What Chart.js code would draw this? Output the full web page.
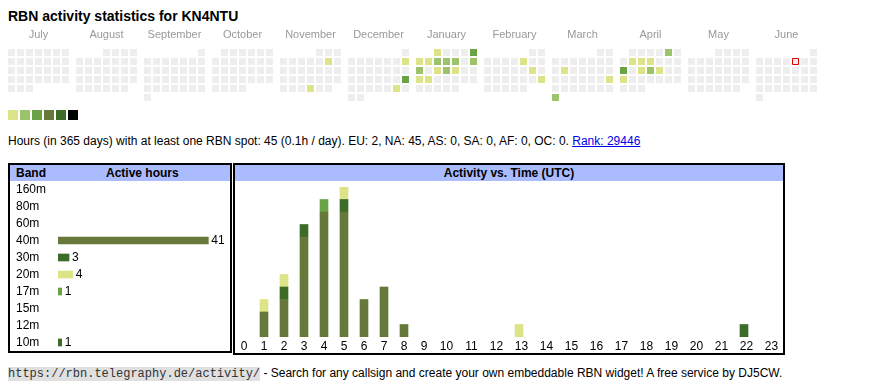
<!DOCTYPE html>
<html>
<head>
<meta charset="utf-8">
<script src="https://cdn.jsdelivr.net/npm/chart.js@4.4.1/dist/chart.umd.min.js"></script>
<style>
    body { margin: 0; width: 870px; height: 390px; position: relative; overflow: hidden; background: #fff;
           font-family: "Liberation Sans", Arial, sans-serif; font-size: 12px; color: #000; }
    .abs { position: absolute; }
    #title { left: 8px; top: 8px; line-height: 16px; font-size: 14px; font-weight: bold; white-space: nowrap; }
    #legend span { position: absolute; top: 110px; width: 10px; height: 10px; }
    #info { left: 8px; top: 134px; line-height: 14px; white-space: nowrap; }
    #info a { color: #0000ee; text-decoration: underline; }
    .box { position: absolute; box-sizing: border-box; border: 2px solid #000; }
    .hdr { position: absolute; left: 0; right: 0; top: 0; height: 16px; line-height: 16px; background: #aabbff; font-weight: bold; }
    .hdr span { position: absolute; top: 0; }
    #foot { left: 8px; top: 366px; line-height: 14px; white-space: nowrap; }
    #foot code { font-family: "Liberation Mono", "Courier New", monospace; font-size: 12px; background: #e0e0e0; color: #333; }
    canvas { position: absolute; }
</style>
</head>
<body>

<div id="title" class="abs">RBN activity statistics for KN4NTU</div>
<canvas id="calendar" width="830" height="100" style="left:0;top:24px"></canvas>
<div id="legend"></div>
<div id="info" class="abs">Hours (in 365 days) with at least one RBN spot: 45 (0.1h / day). EU: 2, NA: 45, AS: 0, SA: 0, AF: 0, OC: 0. <a href="#">Rank: 29446</a></div>

<div class="box" style="left:8px;top:163px;width:224px;height:190px">
    <div class="hdr"><span style="left:6px">Band</span><span style="left:96px">Active hours</span></div>
</div>
<canvas id="bands" width="220" height="170" style="left:10px;top:181px"></canvas>

<div class="box" style="left:233px;top:163px;width:552px;height:192px">
    <div class="hdr" style="text-align:center">Activity vs. Time (UTC)</div>
</div>
<canvas id="hours" width="549" height="172" style="left:234px;top:181px"></canvas>

<div id="foot" class="abs"><code>https://rbn.telegraphy.de/activity/</code> - Search for any callsign and create your own embeddable RBN widget! A free service by DJ5CW.</div>

<script>
// ---- calendar data ----
const MONTHS = ['July', 'August', 'September', 'October', 'November', 'December',
                'January', 'February', 'March', 'April', 'May', 'June'];
const FIRST_YEAR = 2024;
const FIRST_MONTH = 6;          // July
const TODAY = '2025-06-06';
const ACTIVE_DAYS = [
    '2024-11-09', '2024-11-28', '2024-12-08', '2024-12-22', '2024-12-28',
    '2025-01-01', '2025-01-05', '2025-01-06', '2025-01-07', '2025-01-08', '2025-01-09', '2025-01-10', '2025-01-12',
    '2025-01-13', '2025-01-15', '2025-01-16', '2025-01-17', '2025-01-20', '2025-01-21',
    '2025-02-07', '2025-02-15', '2025-02-23',
    '2025-03-11', '2025-03-23', '2025-03-31',
    '2025-04-05', '2025-04-08', '2025-04-09', '2025-04-10', '2025-04-14', '2025-04-16', '2025-04-17', '2025-04-18', '2025-04-21'
];
const ACTIVE_LEVELS = [
    1, 1, 1, 3, 1,
    1, 3, 1, 1, 2, 2, 2, 2,
    2, 1, 2, 1, 1, 1,
    1, 1, 1,
    1, 1, 2,
    2, 1, 1, 1, 3, 1, 2, 1, 1
];
const LEVEL_COLORS = ['#eeeeee', '#dde388', '#9dc36a', '#6aa345', '#66793b', '#3d6b28', '#000000'];

// ---- band data ----
const BANDS = ['160m', '80m', '60m', '40m', '30m', '20m', '17m', '15m', '12m', '10m'];
const BAND_HOURS = [0, 0, 0, 41, 3, 4, 1, 0, 0, 1];
const BAND_COLORS = ['#9dc36a', '#6aa345', '#9dc36a', '#66793b', '#3d6b28', '#dde388', '#6aa345', '#9dc36a', '#6aa345', '#3d6b28'];

// ---- activity per UTC hour, per band ----
const HOURS = ['0', '1', '2', '3', '4', '5', '6', '7', '8', '9', '10', '11',
               '12', '13', '14', '15', '16', '17', '18', '19', '20', '21', '22', '23'];
const UTC_40M = [0, 2, 3, 8, 10, 10, 3, 4, 1, 0, 0, 0, 0, 0, 0, 0, 0, 0, 0, 0, 0, 0, 0, 0];
const UTC_30M = [0, 0, 1, 1, 0, 1, 0, 0, 0, 0, 0, 0, 0, 0, 0, 0, 0, 0, 0, 0, 0, 0, 0, 0];
const UTC_20M = [0, 1, 1, 0, 0, 1, 0, 0, 0, 0, 0, 0, 0, 1, 0, 0, 0, 0, 0, 0, 0, 0, 0, 0];
const UTC_17M = [0, 0, 0, 0, 1, 0, 0, 0, 0, 0, 0, 0, 0, 0, 0, 0, 0, 0, 0, 0, 0, 0, 0, 0];
const UTC_10M = [0, 0, 0, 0, 0, 0, 0, 0, 0, 0, 0, 0, 0, 0, 0, 0, 0, 0, 0, 0, 0, 0, 1, 0];

Chart.defaults.font.family = '"Liberation Sans", Arial, sans-serif';
Chart.defaults.color = '#000';

const baseOptions = {
    responsive: false,
    animation: false,
    events: [],
    plugins: { legend: { display: false }, tooltip: { enabled: false } }
};

// ========== calendar heatmap ==========
const MONTH_STEP = 68 / 9;      // month block pitch, in cell units

function pad(n) { return String(n).padStart(2, '0'); }

function calendarCells() {
    const cells = [];
    MONTHS.forEach((name, m) => {
        const yr = FIRST_YEAR + Math.floor((FIRST_MONTH + m) / 12);
        const mo = (FIRST_MONTH + m) % 12;
        const days = new Date(Date.UTC(yr, mo + 1, 0)).getUTCDate();
        const first = (new Date(Date.UTC(yr, mo, 1)).getUTCDay() + 6) % 7;
        for (let d = 1; d <= days; d++) {
            const iso = yr + '-' + pad(mo + 1) + '-' + pad(d);
            const k = ACTIVE_DAYS.indexOf(iso);
            cells.push({
                x: m * MONTH_STEP + (first + d - 1) % 7,
                y: Math.floor((first + d - 1) / 7),
                level: k < 0 ? 0 : ACTIVE_LEVELS[k],
                today: iso === TODAY
            });
        }
    });
    return cells;
}

new Chart(document.getElementById('calendar'), {
    type: 'scatter',
    data: {
        datasets: [{
            data: calendarCells(),
            pointStyle: 'rect',
            pointRadius: c => (c.raw.today ? 6 : 7) / Math.SQRT2,
            pointBackgroundColor: c => LEVEL_COLORS[c.raw.level],
            pointBorderColor: '#e00000',
            pointBorderWidth: c => c.raw.today ? 1 : 0
        }]
    },
    options: {
        ...baseOptions,
        layout: { autoPadding: false, padding: { left: 7, right: 12, top: 0, bottom: 13 } },
        scales: {
            x: {
                type: 'linear', position: 'top',
                min: -0.5, max: 11 * MONTH_STEP + 6.5,
                grid: { display: false, drawTicks: false }, border: { display: false },
                afterBuildTicks: s => { s.ticks = MONTHS.map((n, m) => ({ value: m * MONTH_STEP + 3 })); },
                afterFit: s => { s.height = 24; },
                ticks: {
                    autoSkip: false, maxRotation: 0, padding: 6,
                    color: '#999999', font: { size: 11 },
                    callback: (v, i) => MONTHS[i]
                }
            },
            y: { display: false, min: -0.5, max: 6.5, reverse: true }
        }
    }
});

// legend swatches
const legend = document.getElementById('legend');
LEVEL_COLORS.slice(1).forEach((c, i) => {
    const s = document.createElement('span');
    s.style.left = (8 + i * 12) + 'px';
    s.style.background = c;
    legend.appendChild(s);
});

// ========== band table ==========
const valueLabels = {
    id: 'valueLabels',
    afterDatasetsDraw(chart) {
        const ctx = chart.ctx;
        ctx.save();
        ctx.font = '12px "Liberation Sans", Arial, sans-serif';
        ctx.fillStyle = '#000';
        ctx.textBaseline = 'middle';
        chart.getDatasetMeta(0).data.forEach((bar, i) => {
            if (BAND_HOURS[i] > 0) ctx.fillText(BAND_HOURS[i], bar.x + 3, bar.y);
        });
        ctx.restore();
    }
};

new Chart(document.getElementById('bands'), {
    type: 'bar',
    data: {
        labels: BANDS,
        datasets: [{
            data: BAND_HOURS.map(v => v > 0 ? v : null),
            backgroundColor: BAND_COLORS, barThickness: 7, borderWidth: 0
        }]
    },
    options: {
        ...baseOptions,
        indexAxis: 'y',
        layout: { autoPadding: false, padding: { left: 6, right: 7, top: 0, bottom: 0 } },
        scales: {
            x: { display: false, min: 0, max: 45 },
            y: {
                grid: { display: false, drawTicks: false }, border: { display: false },
                afterFit: s => { s.width = 42; s.paddingTop = 0; s.paddingBottom = 0; },
                ticks: { autoSkip: false, crossAlign: 'far', font: { size: 12 }, color: '#000' }
            }
        }
    },
    plugins: [valueLabels]
});

// ========== activity vs. time ==========
// table-like columns: one-digit hours are narrower than two-digit ones
function colWidth(i) { return 15 + 5 * HOURS[i].length; }
function colLeft(i) { let s = 0; for (let k = 0; k < i; k++) s += colWidth(k); return s; }
function hourSeries(values) {
    return values.map((v, i) => ({ x: colLeft(i) + 10, y: v })).filter(p => p.y > 0);
}

new Chart(document.getElementById('hours'), {
    type: 'bar',
    data: {
        datasets: [
            { label: '40m', data: hourSeries(UTC_40M), backgroundColor: '#66793b' },
            { label: '30m', data: hourSeries(UTC_30M), backgroundColor: '#3d6b28' },
            { label: '20m', data: hourSeries(UTC_20M), backgroundColor: '#dde388' },
            { label: '17m', data: hourSeries(UTC_17M), backgroundColor: '#6aa345' },
            { label: '10m', data: hourSeries(UTC_10M), backgroundColor: '#3d6b28' }
        ]
    },
    options: {
        ...baseOptions,
        datasets: { bar: { barThickness: 8, borderWidth: 0 } },
        layout: { autoPadding: false, padding: { left: 0, right: 0, top: 6, bottom: 0 } },
        scales: {
            x: {
                type: 'linear', min: 0, max: 549, stacked: true, offset: false,
                grid: { display: false, drawTicks: false, offset: false }, border: { display: false },
                afterBuildTicks: s => { s.ticks = HOURS.map((h, i) => ({ value: colLeft(i) + colWidth(i) / 2 })); },
                afterFit: s => { s.height = 16; s.paddingLeft = 0; s.paddingRight = 0; },
                ticks: {
                    autoSkip: false, maxRotation: 0, padding: 2,
                    font: { size: 12 }, color: '#000',
                    callback: (v, i) => HOURS[i]
                }
            },
            y: { display: false, min: 0, max: 12, stacked: true }
        }
    }
});
</script>
</body>
</html>
